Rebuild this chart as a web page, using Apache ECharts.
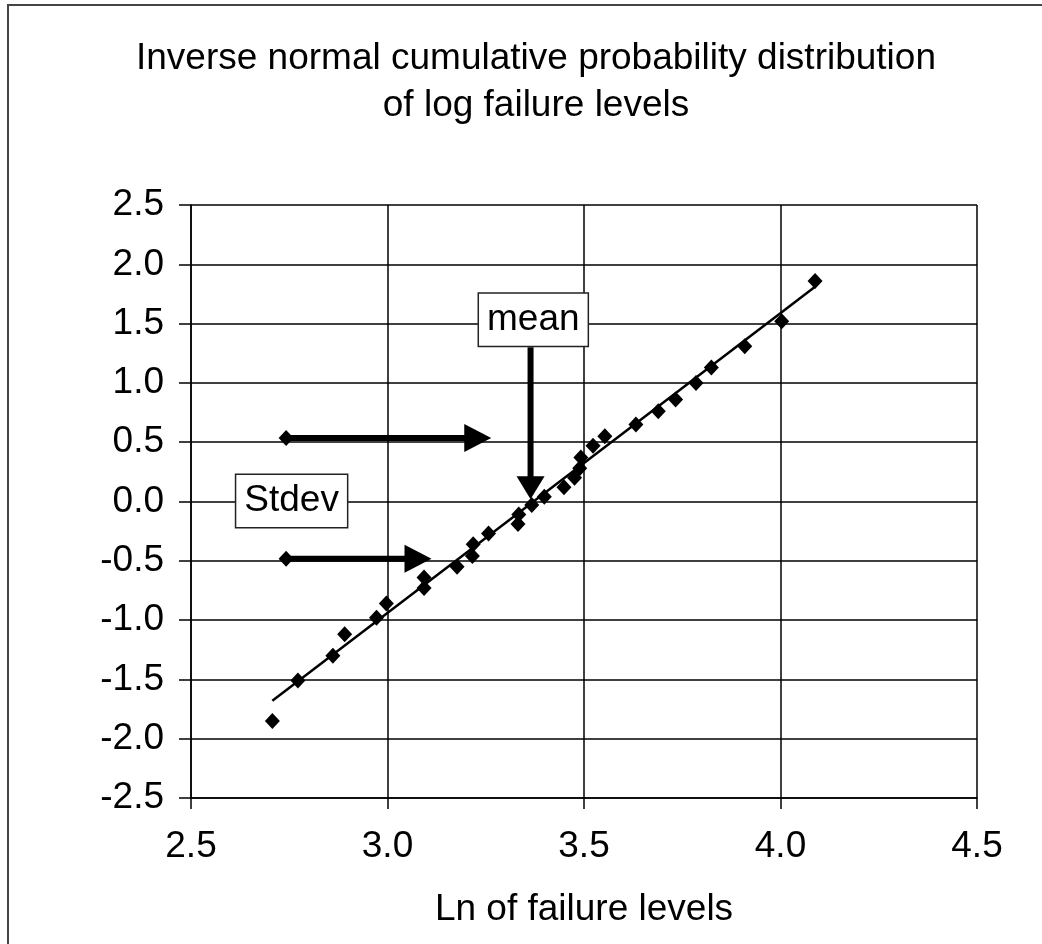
<!DOCTYPE html>
<html>
<head>
<meta charset="utf-8">
<title>Inverse normal cumulative probability distribution of log failure levels</title>
<script src="https://cdn.jsdelivr.net/npm/echarts@6/dist/echarts.min.js"></script>
<style>
  html, body { margin: 0; padding: 0; background: #ffffff; }
  #chart { width: 1042px; height: 944px; }
</style>
</head>
<body>
<div id="chart"></div>
<script>
// Ln of failure level for each specimen, sorted, and its inverse normal score
const lnFailure = [
  2.707, 2.772, 2.861, 2.891, 2.972, 2.997, 3.093, 3.093, 3.177, 3.216,
  3.218, 3.257, 3.332, 3.334, 3.367, 3.399, 3.449, 3.476, 3.489, 3.492,
  3.523, 3.553, 3.632, 3.689, 3.733, 3.785, 3.824, 3.909, 4.003, 4.088
];
const normalScore = [
  -1.85, -1.51, -1.30, -1.12, -0.98, -0.86, -0.73, -0.64, -0.55, -0.46,
  -0.36, -0.27, -0.19, -0.11, -0.03, 0.04, 0.12, 0.20, 0.28, 0.37,
  0.47, 0.55, 0.65, 0.76, 0.86, 1.00, 1.13, 1.31, 1.52, 1.86
];

// Straight-line fit through the points
const trendX = [2.707, 4.088];
const trendY = [-1.68, 1.81];

// Axis ticks
const xTicks = [2.5, 3.0, 3.5, 4.0, 4.5];
const yTicks = [-2.5, -2.0, -1.5, -1.0, -0.5, 0.0, 0.5, 1.0, 1.5, 2.0, 2.5];

// Annotation arrows (two Stdev arrows, one mean arrow)
const arrowFromX = [2.742, 2.742, 3.364];
const arrowFromY = [0.535, -0.483, 1.30];
const arrowToX   = [3.264, 3.112, 3.364];
const arrowToY   = [0.535, -0.483, 0.02];
const arrowTail  = [1, 1, 0];   // 1 = diamond marker at the tail

// Boxed notes
const noteText = ['mean', 'Stdev'];
const noteX = [3.371, 2.756];
const noteY = [1.532, 0.005];

const FONT = "'Liberation Sans', Arial, sans-serif";
const FS = 37;

const chart = echarts.init(document.getElementById('chart'), null, { renderer: 'canvas' });

const points = lnFailure.map((x, i) => [x, normalScore[i]]);
const trend = trendX.map((x, i) => [x, trendY[i]]);
const arrows = arrowFromX.map((x, i) => [x, arrowFromY[i], arrowToX[i], arrowToY[i], arrowTail[i]]);
const notes = noteText.map((t, i) => [noteX[i], noteY[i], t]);

function renderArrow(params, api) {
  const p0 = api.coord([api.value(0), api.value(1)]);
  const p1 = api.coord([api.value(2), api.value(3)]);
  const tail = api.value(4);
  const dx = p1[0] - p0[0], dy = p1[1] - p0[1];
  const len = Math.hypot(dx, dy);
  const ux = dx / len, uy = dy / len;
  const nx = -uy, ny = ux;
  const horizontal = Math.abs(ux) > 0.5;
  const headLen = horizontal ? 27 : 23;
  const headHalf = 14;
  const base = [p1[0] - ux * headLen, p1[1] - uy * headLen];
  const children = [
    {
      type: 'line',
      shape: { x1: p0[0], y1: p0[1], x2: base[0] + ux * 2, y2: base[1] + uy * 2 },
      style: { stroke: '#000', lineWidth: 6 }
    },
    {
      type: 'polygon',
      shape: { points: [
        [p1[0], p1[1]],
        [base[0] + nx * headHalf, base[1] + ny * headHalf],
        [base[0] - nx * headHalf, base[1] - ny * headHalf]
      ] },
      style: { fill: '#000' }
    }
  ];
  if (tail) {
    const w = 7.5, h = 8;
    children.push({
      type: 'polygon',
      shape: { points: [
        [p0[0], p0[1] - h], [p0[0] + w, p0[1]], [p0[0], p0[1] + h], [p0[0] - w, p0[1]]
      ] },
      style: { fill: '#000' }
    });
  }
  return { type: 'group', children };
}

const option = {
  backgroundColor: '#ffffff',
  animation: false,
  title: {
    text: 'Inverse normal cumulative probability distribution\nof log failure levels',
    left: 531,
    top: 30,
    textAlign: 'center',
    textStyle: {
      fontFamily: FONT,
      fontSize: FS,
      fontWeight: 'normal',
      color: '#000',
      lineHeight: 47
    }
  },
  graphic: [
    {
      type: 'rect',
      shape: { x: 8, y: 5, width: 1100, height: 1000 },
      style: { fill: null, stroke: '#444', lineWidth: 2 },
      silent: true,
      z: 100
    }
  ],
  grid: { left: 191, top: 205, width: 786, height: 593, containLabel: false },
  xAxis: {
    type: 'value',
    min: xTicks[0],
    max: xTicks[xTicks.length - 1],
    interval: xTicks[1] - xTicks[0],
    name: 'Ln of failure levels',
    nameLocation: 'middle',
    nameGap: 93,
    nameTextStyle: { fontFamily: FONT, fontSize: FS, color: '#000' },
    axisLine: { show: true, onZero: false, lineStyle: { color: '#000', width: 1.5 } },
    axisTick: { show: true, inside: false, length: 11, lineStyle: { color: '#000', width: 1.5 } },
    axisLabel: {
      fontFamily: FONT, fontSize: FS, color: '#000', margin: 30,
      formatter: v => v.toFixed(1)
    },
    splitLine: { show: true, lineStyle: { color: '#000', width: 1.5 } }
  },
  yAxis: {
    type: 'value',
    min: yTicks[0],
    max: yTicks[yTicks.length - 1],
    interval: yTicks[1] - yTicks[0],
    axisLine: { show: true, onZero: false, lineStyle: { color: '#000', width: 1.5 } },
    axisTick: { show: true, inside: false, length: 12, lineStyle: { color: '#000', width: 1.5 } },
    axisLabel: {
      fontFamily: FONT, fontSize: FS, color: '#000', margin: 27,
      formatter: v => v.toFixed(1)
    },
    splitLine: { show: true, lineStyle: { color: '#000', width: 1.5 } }
  },
  series: [
    {
      name: 'Fit',
      type: 'line',
      data: trend,
      symbol: 'none',
      lineStyle: { color: '#000', width: 2.5 },
      z: 3
    },
    {
      name: 'Failure levels',
      type: 'scatter',
      data: points,
      symbol: 'diamond',
      symbolSize: [15, 16],
      itemStyle: { color: '#000', opacity: 1 },
      z: 4
    },
    {
      name: 'Arrows',
      type: 'custom',
      renderItem: renderArrow,
      data: arrows,
      encode: { x: [0, 2], y: [1, 3] },
      z: 5
    },
    {
      name: 'Notes',
      type: 'scatter',
      data: notes,
      symbolSize: 0,
      itemStyle: { opacity: 1 },
      z: 6,
      label: {
        show: true,
        position: 'inside',
        formatter: p => p.value[2],
        fontFamily: FONT,
        fontSize: FS,
        color: '#000',
        opacity: 1,
        backgroundColor: '#fff',
        borderColor: '#222',
        borderWidth: 1.5,
        padding: [8, 8, 6, 8],
        lineHeight: 38
      }
    }
  ]
};

chart.setOption(option);
</script>
</body>
</html>
